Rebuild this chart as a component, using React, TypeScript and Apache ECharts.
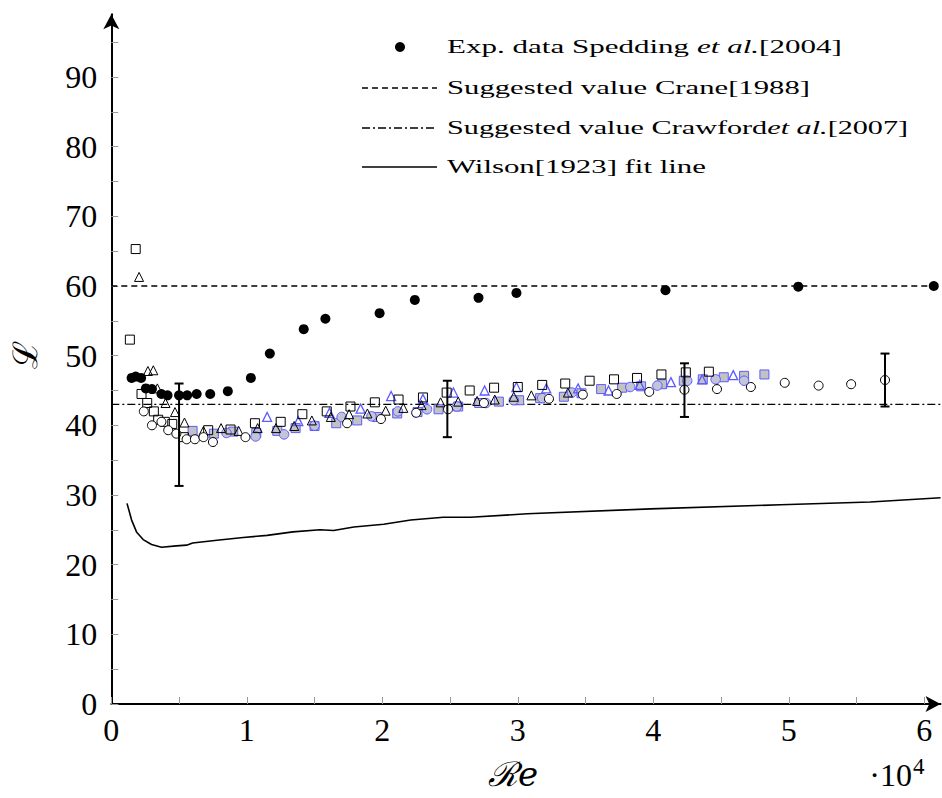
import React, { useEffect, useRef } from "react";
import * as echarts from "echarts";

const speddingPts = [[0.15,46.8],[0.18,47.0],[0.22,46.8],[0.255,45.3],[0.30,45.2],[0.37,44.5],[0.415,44.3],[0.50,44.3],[0.56,44.3],[0.63,44.5],[0.73,44.5],[0.86,44.9],[1.03,46.8],[1.17,50.3],[1.42,53.8],[1.58,55.3],[1.98,56.1],[2.24,58.0],[2.71,58.3],[2.99,59.0],[4.09,59.4],[5.07,59.9],[6.07,60.0]];
const openSquares = [[0.18,65.3],[0.137,52.3],[0.223,44.5],[0.265,43.2],[0.314,42.0],[0.346,40.8],[0.395,40.5],[0.45,40.2],[0.535,38.3],[0.715,39.3],[0.88,39.4],[1.06,40.3],[1.25,40.5],[1.41,41.6],[1.59,42.0],[1.765,42.7],[1.945,43.3],[2.12,43.7],[2.30,44.0],[2.475,44.7],[2.645,45.0],[2.825,45.4],[3.0,45.5],[3.18,45.8],[3.35,46.0],[3.53,46.4],[3.71,46.6],[3.88,46.8],[4.06,47.3],[4.24,47.6],[4.41,47.7]];
const openTriangles = [[0.205,61.3],[0.27,47.8],[0.31,47.9],[0.34,45.3],[0.40,43.2],[0.47,41.9],[0.54,40.4],[0.68,39.2],[0.81,39.6],[0.94,39.2],[1.08,39.6],[1.215,39.6],[1.35,39.9],[1.48,40.7],[1.62,41.2],[1.755,41.6],[1.89,41.7],[2.025,42.1],[2.155,42.5],[2.29,42.9],[2.43,43.3],[2.56,43.4],[2.70,43.5],[2.83,43.7],[2.97,44.1],[3.10,44.3],[3.37,44.7]];
const openCircles = [[0.24,42.0],[0.30,40.0],[0.37,40.5],[0.42,39.3],[0.48,38.8],[0.556,38.0],[0.617,38.0],[0.68,38.3],[0.75,37.6],[0.99,38.3],[1.74,40.3],[1.99,40.9],[2.25,41.8],[2.485,42.3],[2.75,43.2],[3.23,43.8],[3.48,44.4],[3.73,44.5],[3.97,44.8],[4.23,45.1],[4.47,45.2],[4.72,45.5],[4.97,46.1],[5.22,45.7],[5.46,45.9],[5.71,46.5]];
const blueTriangles = [[1.15,41.2],[1.38,40.6],[1.61,41.8],[1.84,42.4],[2.065,44.2],[2.30,43.8],[2.525,44.7],[2.755,45.0],[2.99,45.5],[3.21,45.3],[3.445,45.3],[3.67,45.0],[3.90,45.8],[4.13,46.2],[4.36,46.6],[4.59,47.2]];
const greySquares = [[0.60,39.2],[0.757,38.8],[0.90,39.1],[1.07,38.9],[1.225,39.2],[1.36,39.6],[1.50,39.9],[1.66,40.3],[1.815,40.7],[1.96,41.2],[2.11,41.7],[2.26,41.9],[2.415,42.3],[2.56,42.7],[2.715,43.2],[2.86,43.4],[3.01,43.6],[3.165,43.9],[3.34,44.1],[3.47,44.6],[3.615,45.2],[3.77,45.4],[3.91,45.6],[4.065,45.9],[4.225,46.4],[4.365,46.6],[4.52,46.9],[4.67,47.1],[4.82,47.3]];
const blueCircles = [[0.85,38.9],[1.065,38.4],[1.275,38.7],[1.50,39.95],[1.70,41.2],[1.92,41.3],[2.115,42.0],[2.33,42.3],[2.55,42.7],[2.765,43.2],[2.97,43.6],[3.18,43.9],[3.40,44.7],[3.83,45.5],[4.03,45.7],[4.25,46.4],[4.46,46.6],[4.67,46.4]];
const errorBars = [[0.5,31.3,46.0],[2.48,38.3,46.4],[4.23,41.2,48.9],[5.71,42.7,50.3]];
const wilsonLine = [[0.116,28.8],[0.15,26.4],[0.186,24.7],[0.235,23.6],[0.297,22.9],[0.37,22.5],[0.48,22.7],[0.556,22.8],[0.60,23.1],[0.78,23.5],[0.974,23.9],[1.15,24.2],[1.34,24.7],[1.54,25.0],[1.64,24.9],[1.79,25.4],[2.01,25.8],[2.21,26.4],[2.45,26.8],[2.65,26.8],[3.07,27.3],[3.98,28.0],[4.94,28.6],[5.6,29.0],[6.12,29.6]];
const craneValue = 60;
const crawfordValue = 43;
const xRange = [0, 6.12];
const xTickValues = [0,0.5,1,1.5,2,2.5,3,3.5,4,4.5,5,5.5,6];
const xLabelValues = [0,1,2,3,4,5,6];
const yTickValues = [0,5,10,15,20,25,30,35,40,45,50,55,60,65,70,75,80,85,90,95];
const yLabelValues = [0,10,20,30,40,50,60,70,80,90];
// legend texts: [plain, italic, plain]
const legendTexts = [
  ["Exp. data Spedding ", "et al.", "[2004]"],
  ["Suggested value Crane[1988]", "", ""],
  ["Suggested value Crawford", "et al.", "[2007]"],
  ["Wilson[1923] fit line", "", ""],
];

const SERIF = "Liberation Serif, DejaVu Serif, serif";
const FS = 19;

function measure(ctx: CanvasRenderingContext2D, s: string, italic: boolean) {
  ctx.font = `${italic ? "italic " : ""}${FS}px "Liberation Serif"`;
  return ctx.measureText(s).width;
}

export default function App() {
  const ref = useRef<HTMLDivElement>(null);
  useEffect(() => {
    document.body.style.margin = "0";
    const chart = echarts.init(ref.current!, null, { renderer: "svg" });
    const blue = "#5b5bff";
    const openStyle = { color: "rgba(255,255,255,0)", borderColor: "#000", borderWidth: 1, opacity: 1 };
    const legendY = [47, 88, 128, 167];
    const legendRight = [842, 810, 908, 706];
    const legendX = 447;
    const ctx = document.createElement("canvas").getContext("2d")!;
    const legendFont = { fontFamily: SERIF, fontSize: FS, fill: "#000" };
    const legendGraphics = legendTexts.map((t, i) => {
      const w = measure(ctx, t[0], false) + measure(ctx, t[1], true) + measure(ctx, t[2], false);
      const sx = w > 0 ? (legendRight[i] - legendX) / w : 1;
      const parts = [`{a|${t[0]}}`];
      if (t[1]) parts.push(`{i|${t[1]}}`);
      if (t[2]) parts.push(`{a|${t[2]}}`);
      return {
        type: "text", x: legendX, y: legendY[i], scaleX: sx,
        style: { text: parts.join(""), verticalAlign: "middle", rich: { a: legendFont, i: { ...legendFont, fontStyle: "italic" } } },
      };
    });
    chart.setOption({
      animation: false,
      backgroundColor: "#fff",
      grid: { left: 111.3, right: 942 - 111.3 - 6.12 * 135.5, top: 704 - 99 * 6.967, bottom: 94 },
      xAxis: {
        type: "value", min: xRange[0], max: xRange[1],
        splitLine: { show: false },
        axisLine: { lineStyle: { color: "#000", width: 2 }, symbol: ["none", "arrow"], symbolSize: [12, 15] },
        axisTick: { inside: true, length: 7, lineStyle: { color: "#999", width: 1 }, customValues: xTickValues },
        axisLabel: { customValues: xLabelValues, fontFamily: SERIF, fontSize: 32, color: "#000", margin: 10 },
      },
      yAxis: {
        type: "value", min: 0, max: 99,
        splitLine: { show: false },
        axisLine: { lineStyle: { color: "#000", width: 2 }, symbol: ["none", "arrow"], symbolSize: [12, 15] },
        axisTick: { inside: true, length: 7, lineStyle: { color: "#999", width: 1 }, customValues: yTickValues },
        axisLabel: { customValues: yLabelValues, fontFamily: SERIF, fontSize: 32, color: "#000", margin: 14 },
      },
      series: [
        { type: "line", data: wilsonLine, showSymbol: false, symbol: "none", clip: false, lineStyle: { color: "#000", width: 1.6 }, z: 2 },
        { type: "line", data: [[xRange[0], craneValue], [xRange[1], craneValue]], symbol: "none", lineStyle: { color: "#000", width: 1.4, type: [6, 4] }, z: 2 },
        { type: "line", data: [[xRange[0], crawfordValue], [xRange[1], crawfordValue]], symbol: "none", lineStyle: { color: "#000", width: 1.4, type: [8, 3, 2, 3] }, z: 2 },
        { type: "scatter", data: greySquares, symbol: "rect", symbolSize: 9, itemStyle: { color: "#c2c2c2", borderColor: blue, borderWidth: 1, opacity: 1 }, z: 3 },
        { type: "scatter", data: blueCircles, symbol: "circle", symbolSize: 9.5, itemStyle: { color: "#c4c4d8", borderColor: blue, borderWidth: 1, opacity: 1 }, z: 3 },
        { type: "scatter", data: blueTriangles, symbol: "triangle", symbolSize: 9, itemStyle: { color: "rgba(255,255,255,0)", borderColor: blue, borderWidth: 1.3, opacity: 1 }, z: 4 },
        { type: "scatter", data: openSquares, symbol: "rect", symbolSize: 9, itemStyle: openStyle, z: 4 },
        { type: "scatter", data: openTriangles, symbol: "triangle", symbolSize: 9, itemStyle: openStyle, z: 4 },
        { type: "scatter", data: openCircles, symbol: "circle", symbolSize: 9, itemStyle: { ...openStyle, color: "#fff" }, z: 4 },
        { type: "scatter", data: speddingPts, symbol: "circle", symbolSize: 10, itemStyle: { color: "#000", opacity: 1 }, z: 5 },
        {
          type: "custom", data: errorBars, z: 6,
          renderItem: (params: any, api: any) => {
            const lo = api.coord([api.value(0), api.value(1)]);
            const hi = api.coord([api.value(0), api.value(2)]);
            const st = { stroke: "#000", lineWidth: 2 };
            const w = 4.5;
            return {
              type: "group",
              children: [
                { type: "line", shape: { x1: lo[0], y1: lo[1], x2: hi[0], y2: hi[1] }, style: st },
                { type: "line", shape: { x1: lo[0] - w, y1: lo[1], x2: lo[0] + w, y2: lo[1] }, style: st },
                { type: "line", shape: { x1: hi[0] - w, y1: hi[1], x2: hi[0] + w, y2: hi[1] }, style: st },
              ],
            };
          },
        },
      ],
      graphic: [
        { type: "circle", shape: { cx: 400, cy: legendY[0], r: 5 }, style: { fill: "#000" } },
        { type: "line", shape: { x1: 362, y1: legendY[1], x2: 437, y2: legendY[1] }, style: { stroke: "#000", lineWidth: 1.4, lineDash: [6, 4] } },
        { type: "line", shape: { x1: 362, y1: legendY[2], x2: 437, y2: legendY[2] }, style: { stroke: "#000", lineWidth: 1.4, lineDash: [8, 3, 2, 3] } },
        { type: "line", shape: { x1: 362, y1: legendY[3], x2: 437, y2: legendY[3] }, style: { stroke: "#000", lineWidth: 1.6 } },
        ...legendGraphics,
        { type: "text", x: 513, y: 774, style: { text: "\u211Be", align: "center", verticalAlign: "middle", font: "italic 34px DejaVu Serif, serif", fill: "#000" } },
        { type: "text", x: 912, y: 775, style: { text: "\u00B710", align: "right", verticalAlign: "middle", font: `32px ${SERIF}`, fill: "#000" } },
        { type: "text", x: 913, y: 766, style: { text: "4", align: "left", verticalAlign: "middle", font: `23px ${SERIF}`, fill: "#000" } },
        { type: "text", x: 25, y: 355, rotation: Math.PI / 2, style: { text: "\u2112", align: "center", verticalAlign: "middle", font: "34px DejaVu Serif, serif", fill: "#000" } },
      ],
    });
    return () => chart.dispose();
  }, []);
  return <div ref={ref} style={{ width: 942, height: 798 }} />;
}
